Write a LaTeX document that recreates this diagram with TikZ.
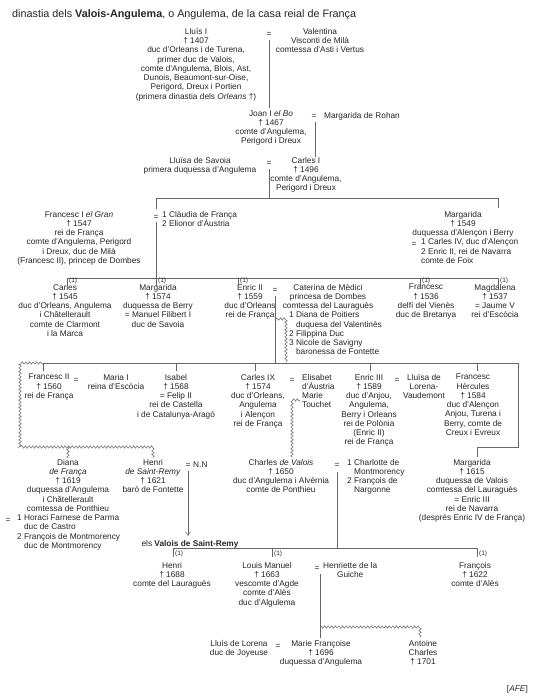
\documentclass[tikz,border=0pt]{standalone}
\usepackage{fontspec}
\setmainfont{Liberation Sans}
\usetikzlibrary{decorations.pathmorphing,arrows.meta}
\newcommand\fs{\fontsize{8.3}{9.25}\selectfont}
\newcommand\fsone{\fontsize{6.5}{8}\selectfont}
\begin{document}
\begin{tikzpicture}[x=1pt,y=-1pt,
  t/.style={font=\fs,align=center,inner sep=0pt,anchor=north,yshift=8pt,text=black!85,execute at begin node={\rule{0pt}{8pt}}},
  tl/.style={font=\fs,align=left,inner sep=0pt,anchor=north west,yshift=8pt,text=black!85,execute at begin node={\rule{0pt}{8pt}}},
  tc/.style={font=\fs,align=center,inner sep=0pt,anchor=north west,yshift=8pt,text=black!85,execute at begin node={\rule{0pt}{8pt}}},
  one/.style={font=\fsone,inner sep=0pt,anchor=base west,text=black!85},
  ln/.style={line width=0.5pt,draw=black!60},
  wv/.style={ln,decorate,decoration={zigzag,amplitude=1.2pt,segment length=3.6pt}}]
\fill[white] (0,0) rectangle (533,700);
\useasboundingbox (0,0) rectangle (533,700);

% title
\node[font=\fontsize{10.8}{13}\selectfont,inner sep=0pt,anchor=base west,text=black!85] (title) at (12,18) {dinastia dels \textbf{Valois-Angulema}, o Angulema, de la casa reial de França};

% generation 0
\node[t] (lluis) at (196,36) {Lluís I\\† 1407\\duc d'Orleans i de Turena,\\primer duc de Valois,\\comte d'Angulema, Blois, Ast,\\Dunois, Beaumont-sur-Oise,\\Perigord, Dreux i Portien\\(primera dinastia dels \textit{Orleans} †)};
\node[t] (eqA) at (269,36) {=};
\node[t] (valentina) at (320,36) {Valentina\\Visconti de Milà\\comtessa d'Asti i Vertus};
\node[t] (joan) at (271,118) {Joan I \textit{el Bo}\\† 1467\\comte d'Angulema,\\Perigord i Dreux};
\node[t] (eqB) at (314,118) {=};
\node[tl] (rohan) at (324,118) {Margarida de Rohan};
\node[t] (savoia) at (200,165) {Lluïsa de Savoia\\primera duquessa d'Angulema};
\node[t] (eqC) at (269,165) {=};
\node[t] (carles1) at (306,165) {Carles I\\† 1496\\comte d'Angulema,\\Perigord i Dreux};

% generation 1
\node[t] (francesc1) at (79,219) {Francesc I \textit{el Gran}\\† 1547\\rei de França\\comte d'Angulema, Perigord\\i Dreux, duc de Milà\\(Francesc II), princep de Dombes};
\node[t] (eqD) at (156,219) {=};
\node[tl] (claudia) at (162,219) {1 Clàudia de França\\2 Elionor d'Àustria};
\node[t] (margA) at (463,219) {Margarida\\† 1549\\duquessa d'Alençon i Berry};
\node[t] (eqE) at (414,246.75) {=};
\node[tl] (margAm) at (421,246.75) {1 Carles IV, duc d'Alençon\\2 Enric II, rei de Navarra\\comte de Foix};

% generation 2
\node[t] (carlesB) at (65,292) {Carles\\† 1545\\duc d'Orleans, Angulema\\i Châtellerault\\comte de Clarmont\\i la Marca};
\node[t] (margB) at (158,292) {Margarida\\† 1574\\duquessa de Berry\\= Manuel Filibert I\\duc de Savoia};
\node[t] (enric2) at (250,292) {Enric II\\† 1559\\duc d'Orleans\\rei de França};
\node[t] (eqF) at (275,292) {=};
\node[t] (caterina) at (328,292) {Caterina de Mèdici\\princesa de Dombes\\comtessa del Lauraguès};
\node[tl] (amants) at (289,319.75) {1 Diana de Poitiers\\\phantom{1 }duquesa del Valentinès\\2 Filippina Duc\\3 Nicole de Savigny\\\phantom{1 }baronessa de Fontette};
\node[t] (francescB) at (426,292) {Francesc\\† 1536\\delfí del Vienès\\duc de Bretanya};
\node[t] (magdalena) at (495,292) {Magdalena\\† 1537\\= Jaume V\\rei d'Escòcia};

% generation 3
\node[t] (francesc2) at (49,382) {Francesc II\\† 1560\\rei de França};
\node[t] (eqG) at (76,382) {=};
\node[t] (maria) at (116,382) {Maria I\\reina d'Escòcia};
\node[t] (isabel) at (176,382) {Isabel\\† 1568\\= Felip II\\rei de Castella\\i de Catalunya-Aragó};
\node[t] (carles9) at (258,382) {Carles IX\\† 1574\\duc d'Orleans,\\Angulema\\i Alençon\\rei de França};
\node[t] (eqH) at (292,382) {=};
\node[tl] (elisabet) at (302,382) {Elisabet\\d'Àustria\\Marie\\Touchet};
\node[t] (enric3) at (369,382) {Enric III\\† 1589\\duc d'Anjou,\\Angulema,\\Berry i Orleans\\rei de Polònia\\(Enric II)\\rei de França};
\node[t] (eqI) at (397,382) {=};
\node[t] (lluisa) at (424,382) {Lluïsa de\\Lorena-\\Vaudemont};
\node[t] (hercules) at (473,382) {Francesc\\Hèrcules\\† 1584\\duc d'Alençon\\Anjou, Turena i\\Berry, comte de\\Creux i Evreux};

% generation 4
\node[t] (diana) at (68,467) {Diana\\\textit{de França}\\† 1619\\duquessa d'Angulema\\i Châtellerault\\comtessa de Ponthieu};
\node[t] (eqJ) at (8,522.5) {=};
\node[tl] (dianam) at (17,522.5) {1 Horaci Farnese de Parma\\\phantom{1 }duc de Castro\\2 François de Montmorency\\\phantom{1 }duc de Montmorency};
\node[t] (henriSR) at (153,467) {Henri\\\textit{de Saint-Remy}\\† 1621\\baró de Fontette};
\node[t] (eqK) at (188,467) {=};
\node[tl] (nn) at (193,467) {N.N};
\node[t] (stremy) at (190,546) {els \textbf{Valois de Saint-Remy}};
\node[t] (charles) at (281,467) {Charles \textit{de Valois}\\† 1650\\duc d'Angulema i Alvèrnia\\comte de Ponthieu};
\node[t] (eqL) at (337,467) {=};
\node[tl] (charlesm) at (347,467) {1 Charlotte de\\\phantom{1 }Montmorency\\2 François de\\\phantom{1 }Nargonne};
\node[t] (margC) at (472,467) {Margarida\\† 1615\\duquessa de Valois\\comtessa del Lauraguès\\= Enric III\\rei de Navarra\\(després Enric IV de França)};

% generation 5
\node[t] (henriB) at (172,570) {Henri\\† 1688\\comte del Lauraguès};
\node[t] (louis) at (267,570) {Louis Manuel\\† 1663\\vescomte d'Agde\\comte d'Alès\\duc d'Algulema};
\node[t] (eqM) at (317,570) {=};
\node[tc] (henriette) at (323,570) {Henriette de la\\Guiche};
\node[t] (francoisB) at (475,570) {François\\† 1622\\comte d'Alès};

% generation 6
\node[t] (lorena) at (239,648) {Lluís de Lorena\\duc de Joyeuse};
\node[t] (eqN) at (278,648) {=};
\node[t] (marief) at (321,648) {Marie Françoise\\† 1696\\duquessa d'Angulema};
\node[t] (antoine) at (423,648) {Antoine\\Charles\\† 1701};

\node[font=\fs,inner sep=0pt,anchor=base east,text=black!85] (afe) at (528,691) {[\textit{AFE}]};

% ---------- connectors ----------
\coordinate (jA) at (269,198);
\draw[ln] (269,40) -- (269,108);
\draw[ln] (315,122) -- (315,157);
\draw[ln] (269,169) -- (jA);
\draw[ln] (156,198) -- (498,198);
\draw[ln] (156,198) -- (156,209);
\draw[ln] (156,222) -- (156,278);
\draw[ln] (498,198) -- (498,208);

% children of Francesc I
\draw[ln] (67,278) -- (498,278);
\foreach \x in {67,156,238,420,498} {
  \draw[ln] (\x,278) -- (\x,285.5);
  \node[one] at (\x+2,282.5) {(1)};
}

% Enric II children
\draw[ln] (275,296) -- (275,363);
\draw[wv] (276,319) -- (286,319) -- (286,363);
\draw[ln] (43,363) -- (518,363);
\foreach \x in {43,176,255,370,477} {
  \draw[ln] (\x,363) -- (\x,371);
}
\draw[wv] (43,363) -- (20,363) -- (20,447) -- (153,447) -- (153,458);
\draw[wv] (68,447) -- (68,458);
\draw[ln] (518,363) -- (518,447) -- (477,447) -- (477,457);

% Carles IX and Marie Touchet
\draw[wv] (300,400) -- (292,400) -- (292,458);

% Henri de Saint-Remy
\draw[ln,-{Straight Barb[length=4pt,width=5pt]}] (188,471) -- (188,536);

% Charles de Valois children
\draw[ln] (337,472) -- (337,548);
\draw[ln] (173,548) -- (477,548);
\foreach \x in {173,272,477} {
  \draw[ln] (\x,548) -- (\x,557);
  \node[one] at (\x+2,555.5) {(1)};
}

% Louis Manuel children
\draw[ln] (320,574) -- (320,638);
\draw[wv] (320,627) -- (420,627) -- (420,637);

\end{tikzpicture}
\end{document}
